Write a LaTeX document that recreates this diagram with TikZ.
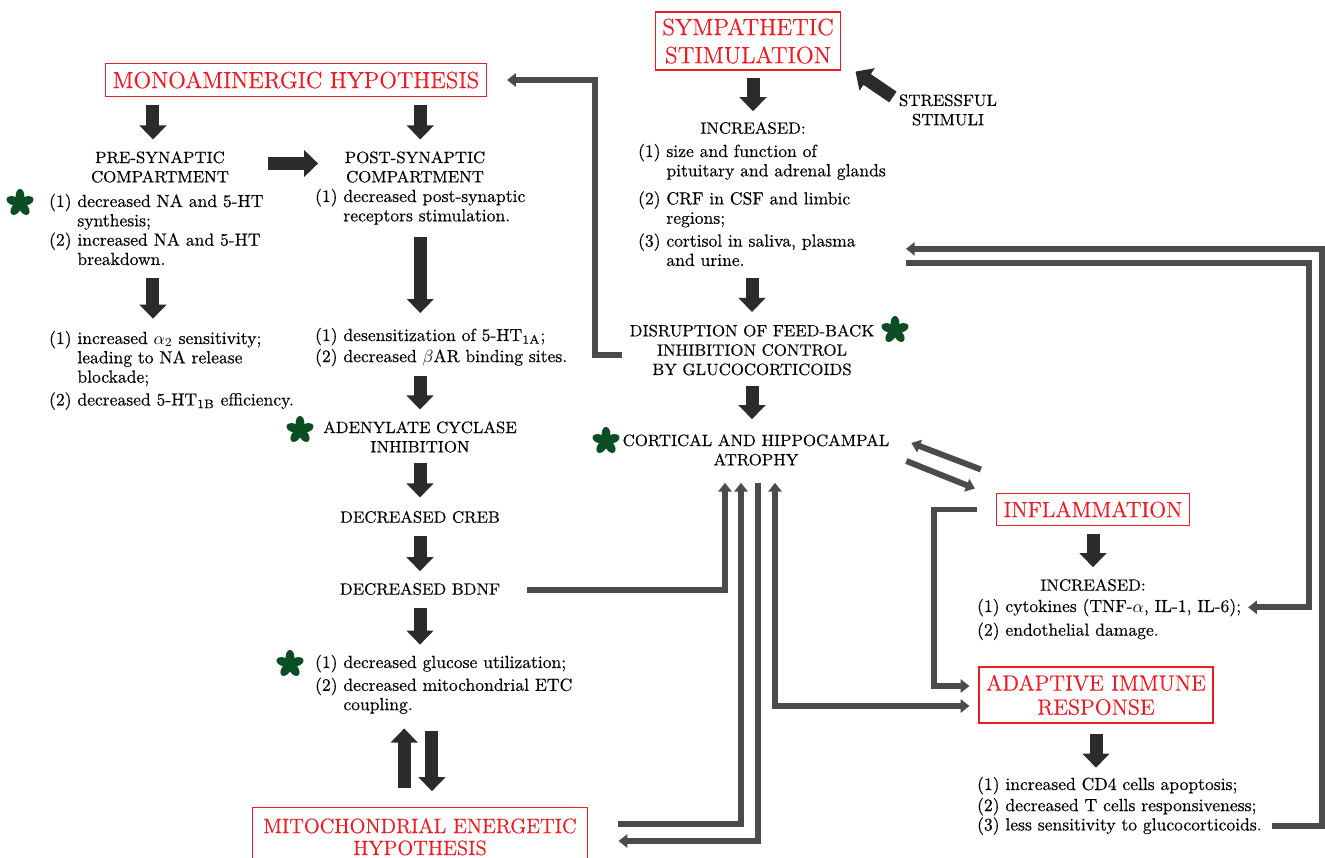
\documentclass[tikz,border=0pt]{standalone}
\usepackage{fontspec}
\setmainfont{Latin Modern Roman}[FakeBold=0.35]
\usepackage{tikz}
\usetikzlibrary{arrows.meta,positioning}
\definecolor{boxred}{RGB}{237,28,36}
\definecolor{stargreen}{RGB}{12,78,36}
\definecolor{arrowdark}{RGB}{43,43,43}
\definecolor{linkgrey}{RGB}{75,75,75}
\newcommand{\itemlist}[1]{\begin{tabular}[t]{@{}l@{\ }l@{}}#1\end{tabular}}

\begin{document}
\begin{tikzpicture}[
        x=0.02cm, y=-0.02cm,
        title/.style={draw=boxred, line width=0.8pt, text=boxred, align=center,
            inner xsep=4pt, inner ysep=4.5pt, font=\fontsize{12.6}{14}\selectfont},
        caps/.style={align=center, inner sep=1pt, font=\fontsize{9.3}{11}\selectfont},
        lst/.style={anchor=base west, inner sep=1pt, font=\fontsize{10}{11}\selectfont},
        fat/.style={draw=arrowdark, line width=7.4pt, -{Triangle[length=8pt,width=15pt]},
            shorten <=4.5pt, shorten >=5.5pt},
        link/.style={draw=linkgrey, line width=3.4pt, -{Triangle[length=5pt,width=7.5pt]}},
        linkboth/.style={link, {Triangle[length=5pt,width=7.5pt]}-{Triangle[length=5pt,width=7.5pt]}},
        astk/.pic={
            \foreach \a in {18,90,162,234,306}
                \fill[stargreen, rotate=\a] (4pt,0) ellipse (4pt and 2.5pt);
            \fill[stargreen] (0,0) circle (2pt);
        }
    ]
    \useasboundingbox (0,0) rectangle (1325,858);
    \clip (0,0) rectangle (1325,858);

    % monoaminergic side
    \node[title, font=\fontsize{13.2}{14}\selectfont] (mono) at (296,80) {MONOAMINERGIC HYPOTHESIS};
    \node[caps] (pre) at (160,167) {PRE-SYNAPTIC\\COMPARTMENT};
    \node[caps] (post) at (415,167) {POST-SYNAPTIC\\COMPARTMENT};
    \node[lst] (prelist) at (47,207) {\itemlist{(1) & decreased NA and 5-HT\\ & synthesis;\\(2) & increased NA and 5-HT\\ & breakdown.}};
    \node[lst] (postlist) at (313,202) {\itemlist{(1) & decreased post-synaptic\\ & receptors stimulation.}};
    \node[lst] (prelist2) at (47,344) {\itemlist{(1) & increased $\alpha_{2}$ sensitivity;\\ & leading to NA release\\ & blockade;\\[2pt](2) & decreased 5-HT$_{\mathrm{1B}}$ efficiency.}};
    \node[lst] (postlist2) at (313,341) {\itemlist{(1) & desensitization of 5-HT$_{\mathrm{1A}}$;\\[1pt](2) & decreased $\beta$AR binding sites.}};
    \node[caps] (adenyl) at (420,437) {ADENYLATE CYCLASE\\INHIBITION};
    \node[caps] (creb) at (420,517) {DECREASED CREB};
    \node[caps] (bdnf) at (420,589) {DECREASED BDNF};
    \node[lst] (gluc) at (313,668) {\itemlist{(1) & decreased glucose utilization;\\[2pt](2) & decreased mitochondrial ETC\\ & coupling.}};
    \node[title, anchor=north, minimum width=191pt, inner ysep=6pt,
        font=\fontsize{11.8}{12.5}\selectfont] (mito) at (420,807) {MITOCHONDRIAL ENERGETIC\\HYPOTHESIS};

    % sympathetic side
    \node[title, inner ysep=3.5pt, font=\fontsize{13.4}{16}\selectfont] (symp) at (748,41) {SYMPATHETIC\\STIMULATION};
    \node[caps] (stress) at (948,110) {STRESSFUL\\STIMULI};
    \node[caps] (incr1) at (753,128) {INCREASED:};
    \node[lst] (snslist) at (636,157) {\itemlist{(1) & size and function of\\ & pituitary and adrenal glands\\[5pt](2) & CRF in CSF and limbic\\ & regions;\\[2pt](3) & cortisol in saliva, plasma\\ & and urine.}};
    \node[caps] (disrupt) at (752,350) {DISRUPTION OF FEED-BACK\\INHIBITION CONTROL\\BY GLUCOCORTICOIDS};
    \node[caps] (cortical) at (756,450) {CORTICAL AND HIPPOCAMPAL\\ATROPHY};

    % immune side
    \node[title] (infl) at (1093,509.5) {INFLAMMATION};
    \node[caps] (incr2) at (1093,585) {INCREASED:};
    \node[lst] (infllist) at (975,612) {\itemlist{(1) & cytokines (TNF-$\alpha$, IL-1, IL-6);\\[2.5pt](2) & endothelial damage.}};
    \node[title, font=\fontsize{12.6}{13.7}\selectfont] (adapt) at (1096,695) {ADAPTIVE IMMUNE\\RESPONSE};
    \node[lst] (adaptlist) at (975,790) {\itemlist{(1) & increased CD4 cells apoptosis;\\[1pt](2) & decreased T cells responsiveness;\\(3) & less sensitivity to glucocorticoids.}};

    \pic at (20,203) {astk};
    \pic at (300,430) {astk};
    \pic at (290,664) {astk};
    \pic at (895,330) {astk};
    \pic at (606,441) {astk};

    % thick arrows
    \draw[fat] ([xshift=-4pt]mono.south -| pre.north) -- ([xshift=-4pt]pre.north);
    \draw[fat] ([xshift=3pt]mono.south -| post.north) -- ([xshift=3pt]post.north);
    \draw[fat, shorten <=21pt, shorten >=14pt] ([yshift=2pt]pre.east) -- ([yshift=2pt]pre.east -| post.west);
    \draw[fat, shorten <=3pt] ([xshift=-4pt]prelist.south -| pre.south) -- ([xshift=-4pt]prelist2.north -| pre.south);
    \draw[fat, shorten >=7pt] ([xshift=3pt]postlist.south -| post.south) -- ([xshift=3pt]postlist2.north -| post.south);
    \draw[fat, shorten <=3.6pt] (postlist2.south -| adenyl.north) -- (adenyl.north);
    \draw[fat, shorten >=6.5pt] (adenyl) -- (creb);
    \draw[fat, shorten <=6pt] (creb) -- (bdnf);
    \draw[fat, shorten <=6pt, shorten >=4.4pt] (bdnf.south) -- (gluc.north -| bdnf.south);
    \draw[fat, shorten <=7.6pt, shorten >=9pt] ([xshift=6.8pt]gluc.south -| mito.north) -- ([xshift=6.8pt]mito.north);
    \draw[fat, shorten <=10.8pt, shorten >=5.9pt] ([xshift=-9pt]mito.north) -- ([xshift=-9pt]gluc.south -| mito.north);
    \draw[fat, shorten >=4.9pt] (symp.south -| incr1.north) -- (incr1.north);
    \draw[fat, shorten <=0pt, shorten >=0pt] ([shift={(-4,-13)}]stress.west) -- ([shift={(14,1)}]symp.south east);
    \draw[fat, shorten <=2.5pt, shorten >=6pt] (snslist.south -| disrupt.north) -- (disrupt.north);
    \draw[fat, shorten <=4.7pt, shorten >=7.4pt] (disrupt.south) -- (disrupt.south |- cortical.north);
    \draw[fat] (infl) -- (incr2);
    \draw[fat, shorten <=5.7pt, shorten >=3.8pt] (adapt.south) -- (adaptlist.north -| adapt.south);

    % feedback connectors
    \draw[link] ([shift={(-6,5)}]disrupt.west) -- ++(-27,0) |- ([shift={(20,0)}]mono.east);
    \draw[link] ([shift={(8,-12)}]adaptlist.south east) -- ++(50,0) |- ([shift={(18,-25)}]snslist.south east);
    \draw[link] ([shift={(18,-11)}]snslist.south east) -- ++(403,0) |- ([shift={(5,11)}]infllist.north east);
    \draw[link] ([shift={(-15,-40)}]infl.west) -- ([shift={(20,-7)}]cortical.east);
    \draw[link] ([shift={(15,11)}]cortical.east) -- ([shift={(-21,-21)}]infl.west);
    \draw[link] ([shift={(-19,0)}]infl.west) -- ++(-43,0) |- ([shift={(-9,-9)}]adapt.west);
    \draw[linkboth] ([shift={(19,15)}]cortical.south) |- ([shift={(-9,11)}]adapt.west);
    \draw[link] ([shift={(25,1)}]bdnf.east) -| ([shift={(-31,15)}]cortical.south);
    \draw[link] ([shift={(30,17)}]mito.north east) -| ([shift={(-15,15)}]cortical.south);
    \draw[link] ([shift={(2,15)}]cortical.south) |- ([shift={(30,34)}]mito.north east);
\end{tikzpicture}
\end{document}
